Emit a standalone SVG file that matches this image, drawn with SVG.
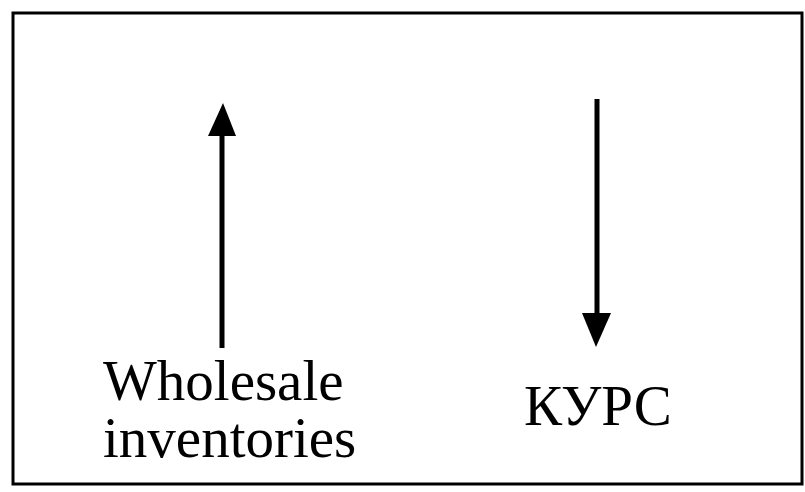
<svg xmlns="http://www.w3.org/2000/svg" width="805" height="492" viewBox="0 0 805 492">
<style>
.lbl{font-family:"Liberation Serif","Times New Roman",serif;font-size:57px;fill:#000}
.shaft{stroke:#000;stroke-width:5;fill:none}
.head{fill:#000}
</style>
<rect x="0" y="0" width="805" height="492" fill="#fff"/>
<rect id="frame" x="13" y="13" width="789" height="471" fill="none" stroke="#000" stroke-width="3"/>
<g id="connectors">
  <line class="shaft" x1="222" y1="348" x2="222" y2="130"/>
  <polygon class="head" points="223,103 236,136 208,136"/>
  <line class="shaft" x1="597" y1="99" x2="597" y2="318"/>
  <polygon class="head" points="582,313 611,313 596,347"/>
</g>
<g id="node-wholesale">
  <text class="lbl" x="103" y="400">Wholesale</text>
  <text class="lbl" x="103" y="457">inventories</text>
</g>
<g id="node-kurs">
  <text class="lbl" x="524" y="425">КУРС</text>
</g>
</svg>
